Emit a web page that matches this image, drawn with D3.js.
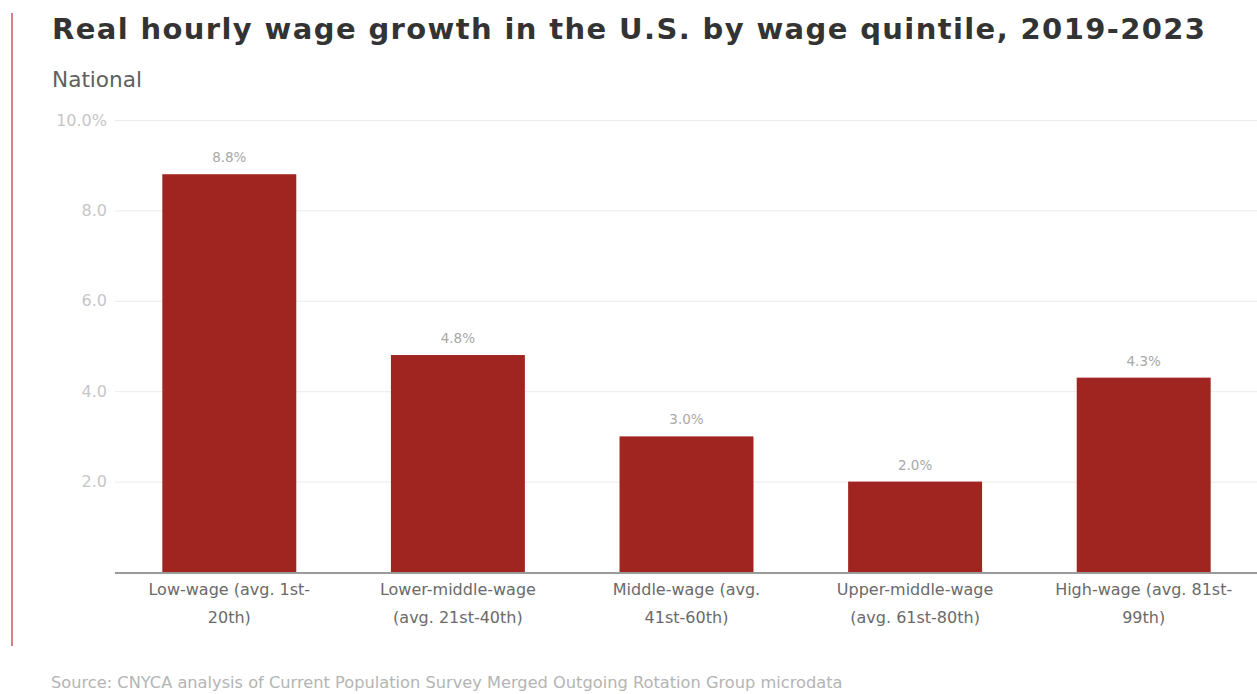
<!DOCTYPE html>
<html>
<head>
<meta charset="utf-8">
<script src="https://cdn.jsdelivr.net/npm/d3@7"></script>
<style>
  html, body { margin: 0; padding: 0; background: #fff; }
  svg { display: block; }
</style>
</head>
<body>
<svg id="chart" width="1257" height="694"></svg>
<script>
// Wage quintile categories (two-line labels) and real wage growth, 2019-2023 (%)
const categories = [
  ["Low-wage (avg. 1st-", "20th)"],
  ["Lower-middle-wage", "(avg. 21st-40th)"],
  ["Middle-wage (avg.", "41st-60th)"],
  ["Upper-middle-wage", "(avg. 61st-80th)"],
  ["High-wage (avg. 81st-", "99th)"]
];
const growth = [8.8, 4.8, 3.0, 2.0, 4.3];
const yTicks = [2, 4, 6, 8, 10];
const yTickLabels = ["2.0", "4.0", "6.0", "8.0", "10.0%"];

const svg = d3.select("#chart");
const wide = "'DejaVu Sans', Verdana, sans-serif";

const margin = { left: 115, right: -1, top: 120, bottom: 122 };
const W = 1257, H = 694;

// Spread a text's letters so it spans a given width
function fitSpacing(sel, target) {
  const node = sel.node();
  const n = node.getNumberOfChars();
  const w = node.getComputedTextLength();
  if (n > 1) sel.attr("letter-spacing", ((target - w) / (n - 1)).toFixed(3));
  return sel;
}
// Scale a text's font size so it spans a given width
function fitSize(sel, target) {
  const size = parseFloat(sel.attr("font-size"));
  const w = sel.node().getComputedTextLength();
  sel.attr("font-size", (size * target / w).toFixed(2));
  return sel;
}

const x = d3.scaleBand()
  .domain(d3.range(categories.length))
  .range([margin.left, W - margin.right])
  .paddingInner(0.414)
  .paddingOuter(0.207);

const y = d3.scaleLinear()
  .domain([0, 10])
  .range([H - margin.bottom, margin.top]);

// Red accent rule on the left
svg.append("line")
  .attr("x1", 12).attr("x2", 12)
  .attr("y1", 13).attr("y2", 646)
  .attr("stroke", "#c8585a").attr("stroke-width", 1.5);

// Title and subtitle
fitSpacing(svg.append("text")
  .attr("x", 52).attr("y", 39)
  .attr("font-family", wide)
  .attr("font-weight", 700)
  .attr("font-size", 29)
  .attr("fill", "#333")
  .text("Real hourly wage growth in the U.S. by wage quintile, 2019-2023"), 1153);

fitSize(svg.append("text")
  .attr("x", 52).attr("y", 87)
  .attr("font-family", wide)
  .attr("font-size", 18)
  .attr("fill", "#606060")
  .text("National"), 90);

// Gridlines
const yAxis = d3.axisLeft(y)
  .tickValues(yTicks)
  .tickFormat((d, i) => yTickLabels[i])
  .tickSize(-(W - margin.left))
  .tickPadding(8);

const gy = svg.append("g")
  .attr("transform", `translate(${margin.left},0)`)
  .call(yAxis);
gy.select(".domain").remove();
gy.selectAll(".tick line").attr("stroke", "#ececec").attr("stroke-width", 1);
gy.selectAll(".tick text")
  .attr("font-family", wide)
  .attr("font-size", 16)
  .attr("fill", "#c6c6c6");

// Bars
svg.append("g")
  .selectAll("rect")
  .data(growth)
  .join("rect")
  .attr("x", (d, i) => x(i))
  .attr("width", x.bandwidth())
  .attr("y", d => y(d))
  .attr("height", d => y(0) - y(d))
  .attr("fill", "#a02420");

// Value labels
svg.append("g")
  .selectAll("text")
  .data(growth)
  .join("text")
  .attr("x", (d, i) => x(i) + x.bandwidth() / 2)
  .attr("y", d => y(d) - 12)
  .attr("text-anchor", "middle")
  .attr("font-family", wide)
  .attr("font-size", 13.5)
  .attr("fill", "#a8a8a8")
  .text(d => d.toFixed(1) + "%");

// Baseline
svg.append("line")
  .attr("x1", margin.left).attr("x2", W)
  .attr("y1", y(0) + 1).attr("y2", y(0) + 1)
  .attr("stroke", "#9a9a9a").attr("stroke-width", 2);

// Category labels
const xl = svg.append("g")
  .selectAll("text")
  .data(categories)
  .join("text")
  .attr("text-anchor", "middle")
  .attr("font-family", wide)
  .attr("font-size", 16)
  .attr("fill", "#6a6a6a");
xl.each(function (lines, i) {
  const t = d3.select(this);
  lines.forEach((ln, j) => {
    t.append("tspan")
      .attr("x", x(i) + x.bandwidth() / 2)
      .attr("y", y(0) + 23 + j * 28)
      .text(ln);
  });
});

// Source note
fitSize(svg.append("text")
  .attr("x", 51).attr("y", 688)
  .attr("font-family", wide)
  .attr("font-size", 14)
  .attr("fill", "#b4b4b4")
  .text("Source: CNYCA analysis of Current Population Survey Merged Outgoing Rotation Group microdata"), 792);
</script>
</body>
</html>
